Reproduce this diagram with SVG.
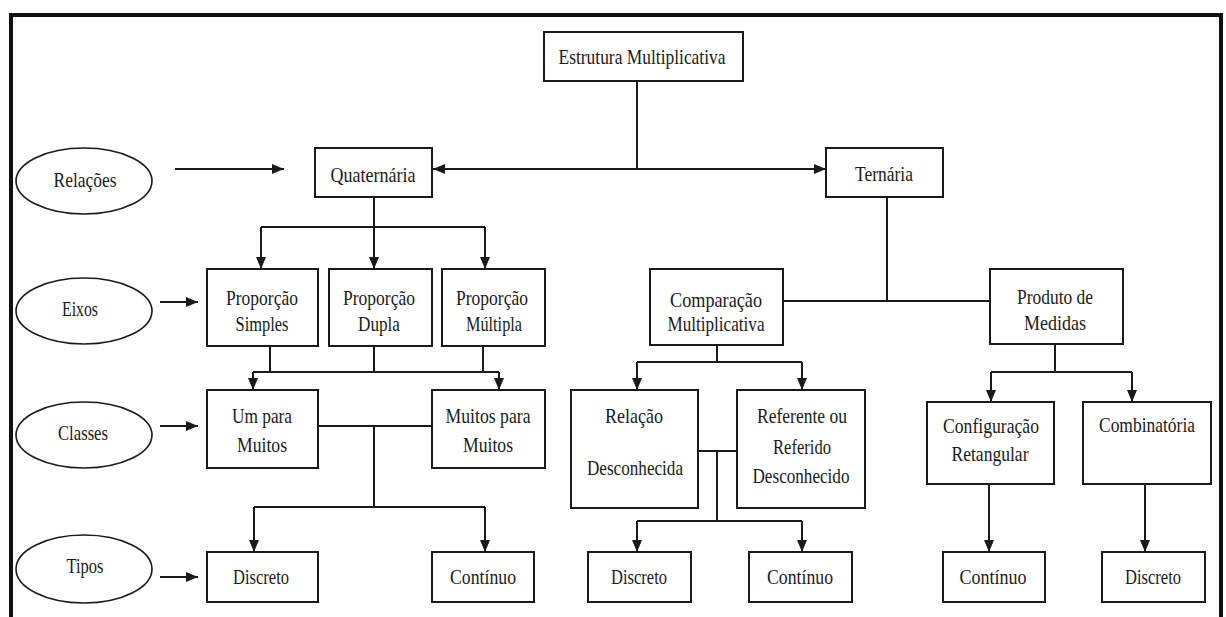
<svg xmlns="http://www.w3.org/2000/svg" width="1226" height="617" viewBox="0 0 1226 617">
<style>
.box{fill:#fff;stroke:#1a1a1a;stroke-width:2}
.ell{fill:#fff;stroke:#1a1a1a;stroke-width:1.6}
.t{font-family:"Liberation Serif","Times New Roman",serif;font-size:22px;fill:#1a1a1a;text-anchor:middle}
.c{fill:none;stroke:#1a1a1a;stroke-width:2}
.a{fill:none;stroke:#1a1a1a;stroke-width:2;marker-end:url(#ah)}
</style>
<defs>
<marker id="ah" markerUnits="userSpaceOnUse" viewBox="0 0 12 10" refX="12" refY="5" markerWidth="12" markerHeight="10" orient="auto-start-reverse">
<path d="M0,0 L12,5 L0,10 z" fill="#1a1a1a"/>
</marker>
</defs>
<rect width="1226" height="617" fill="#fff"/>
<path d="M11,620 V15 H1221 V620" fill="none" stroke="#111" stroke-width="4"/>

<g id="connectors">
<path class="c" d="M637,81 V169"/>
<path class="c" d="M433,169 H826" marker-start="url(#ah)" marker-end="url(#ah)"/>
<path class="a" d="M175,169 H284"/>
<path class="c" d="M374,197 V227 M261,227 H485"/>
<path class="a" d="M261,227 V269"/>
<path class="a" d="M374,227 V269"/>
<path class="a" d="M485,227 V269"/>
<path class="a" d="M160,302 H198"/>
<path class="c" d="M270,346 V372 M374,346 V372 M483,346 V372 M253,372 H499"/>
<path class="a" d="M253,372 V390"/>
<path class="a" d="M499,372 V390"/>
<path class="a" d="M160,426 H198"/>
<path class="c" d="M318,426 H432 M374,426 V507 M254,507 H485"/>
<path class="a" d="M254,507 V552"/>
<path class="a" d="M485,507 V552"/>
<path class="a" d="M160,577 H198"/>
<path class="c" d="M887,197 V301 M783,301 H990"/>
<path class="c" d="M717,345 V362 M637,362 H802"/>
<path class="a" d="M637,362 V390"/>
<path class="a" d="M802,362 V390"/>
<path class="c" d="M698,451 H737 M717,451 V521 M637,521 H802"/>
<path class="a" d="M637,521 V552"/>
<path class="a" d="M802,521 V552"/>
<path class="c" d="M1055,344 V372 M991,372 H1132"/>
<path class="a" d="M991,372 V402"/>
<path class="a" d="M1132,372 V402"/>
<path class="a" d="M989,484 V552"/>
<path class="a" d="M1145,484 V552"/>
</g>

<g id="estrutura"><rect class="box" x="544" y="32" width="199" height="49"/><text class="t" x="642" y="64" textLength="167" lengthAdjust="spacingAndGlyphs">Estrutura Multiplicativa</text></g>

<g id="relacoes"><ellipse class="ell" cx="84" cy="181" rx="68" ry="33"/><text class="t" x="85" y="187" textLength="63" lengthAdjust="spacingAndGlyphs">Relações</text></g>
<g id="eixos"><ellipse class="ell" cx="84" cy="311" rx="68" ry="33"/><text class="t" x="80" y="316" textLength="36" lengthAdjust="spacingAndGlyphs">Eixos</text></g>
<g id="classes"><ellipse class="ell" cx="84" cy="435" rx="68" ry="33"/><text class="t" x="83" y="440" textLength="50" lengthAdjust="spacingAndGlyphs">Classes</text></g>
<g id="tipos"><ellipse class="ell" cx="84" cy="569" rx="68" ry="34"/><text class="t" x="85" y="573" textLength="37" lengthAdjust="spacingAndGlyphs">Tipos</text></g>

<g id="quaternaria"><rect class="box" x="315" y="148" width="117" height="49"/><text class="t" x="373" y="182" textLength="85" lengthAdjust="spacingAndGlyphs">Quaternária</text></g>
<g id="ternaria"><rect class="box" x="826" y="148" width="117" height="49"/><text class="t" x="884" y="181" textLength="58" lengthAdjust="spacingAndGlyphs">Ternária</text></g>

<g id="prop-simples"><rect class="box" x="207" y="269" width="111" height="77"/><text class="t" x="262" y="305" textLength="72" lengthAdjust="spacingAndGlyphs">Proporção</text><text class="t" x="262" y="331" textLength="53" lengthAdjust="spacingAndGlyphs">Simples</text></g>
<g id="prop-dupla"><rect class="box" x="329" y="269" width="103" height="77"/><text class="t" x="379" y="305" textLength="72" lengthAdjust="spacingAndGlyphs">Proporção</text><text class="t" x="379" y="331" textLength="42" lengthAdjust="spacingAndGlyphs">Dupla</text></g>
<g id="prop-multipla"><rect class="box" x="442" y="269" width="103" height="77"/><text class="t" x="492" y="305" textLength="72" lengthAdjust="spacingAndGlyphs">Proporção</text><text class="t" x="494" y="331" textLength="56" lengthAdjust="spacingAndGlyphs">Múltipla</text></g>

<g id="comparacao"><rect class="box" x="650" y="269" width="133" height="76"/><text class="t" x="716" y="307" textLength="92" lengthAdjust="spacingAndGlyphs">Comparação</text><text class="t" x="716" y="331" textLength="97" lengthAdjust="spacingAndGlyphs">Multiplicativa</text></g>
<g id="produto"><rect class="box" x="990" y="269" width="133" height="75"/><text class="t" x="1055" y="304" textLength="76" lengthAdjust="spacingAndGlyphs">Produto de</text><text class="t" x="1055" y="330" textLength="62" lengthAdjust="spacingAndGlyphs">Medidas</text></g>

<g id="um-para-muitos"><rect class="box" x="207" y="390" width="111" height="78"/><text class="t" x="262" y="423" textLength="60" lengthAdjust="spacingAndGlyphs">Um para</text><text class="t" x="262" y="452" textLength="50" lengthAdjust="spacingAndGlyphs">Muitos</text></g>
<g id="muitos-para-muitos"><rect class="box" x="432" y="390" width="113" height="78"/><text class="t" x="488" y="423" textLength="85" lengthAdjust="spacingAndGlyphs">Muitos para</text><text class="t" x="488" y="452" textLength="50" lengthAdjust="spacingAndGlyphs">Muitos</text></g>

<g id="relacao-desc"><rect class="box" x="571" y="390" width="127" height="118"/><text class="t" x="634" y="423" textLength="58" lengthAdjust="spacingAndGlyphs">Relação</text><text class="t" x="635" y="475" textLength="96" lengthAdjust="spacingAndGlyphs">Desconhecida</text></g>
<g id="referente"><rect class="box" x="737" y="390" width="128" height="118"/><text class="t" x="802" y="423" textLength="90" lengthAdjust="spacingAndGlyphs">Referente ou</text><text class="t" x="802" y="454" textLength="58" lengthAdjust="spacingAndGlyphs">Referido</text><text class="t" x="801" y="483" textLength="97" lengthAdjust="spacingAndGlyphs">Desconhecido</text></g>

<g id="configuracao"><rect class="box" x="927" y="402" width="127" height="82"/><text class="t" x="991" y="433" textLength="96" lengthAdjust="spacingAndGlyphs">Configuração</text><text class="t" x="990" y="461" textLength="77" lengthAdjust="spacingAndGlyphs">Retangular</text></g>
<g id="combinatoria"><rect class="box" x="1083" y="402" width="128" height="82"/><text class="t" x="1147" y="432" textLength="96" lengthAdjust="spacingAndGlyphs">Combinatória</text></g>

<g id="discreto-1"><rect class="box" x="207" y="552" width="111" height="50"/><text class="t" x="261" y="584" textLength="56" lengthAdjust="spacingAndGlyphs">Discreto</text></g>
<g id="continuo-1"><rect class="box" x="432" y="552" width="102" height="50"/><text class="t" x="483" y="584" textLength="66" lengthAdjust="spacingAndGlyphs">Contínuo</text></g>
<g id="discreto-2"><rect class="box" x="588" y="552" width="103" height="50"/><text class="t" x="639" y="584" textLength="56" lengthAdjust="spacingAndGlyphs">Discreto</text></g>
<g id="continuo-2"><rect class="box" x="749" y="552" width="103" height="50"/><text class="t" x="800" y="584" textLength="66" lengthAdjust="spacingAndGlyphs">Contínuo</text></g>
<g id="continuo-3"><rect class="box" x="943" y="552" width="102" height="50"/><text class="t" x="993" y="584" textLength="67" lengthAdjust="spacingAndGlyphs">Contínuo</text></g>
<g id="discreto-3"><rect class="box" x="1102" y="552" width="103" height="50"/><text class="t" x="1153" y="584" textLength="56" lengthAdjust="spacingAndGlyphs">Discreto</text></g>
</svg>
